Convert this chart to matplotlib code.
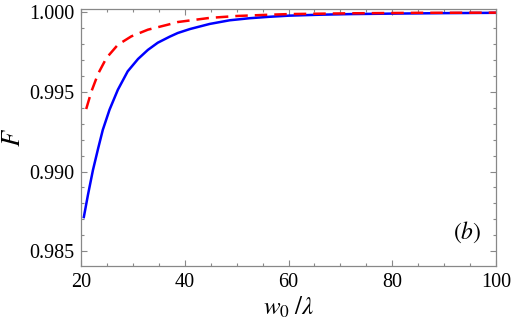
import matplotlib
matplotlib.use("Agg")
import matplotlib.pyplot as plt
from matplotlib.ticker import MultipleLocator

# values
w_blue = [20.5, 21.35, 22.3, 23.3, 24.2, 25.5, 27.1, 29.0, 31.0, 32.9, 34.8,
	37.1, 38.65, 41.0, 44.8, 48.65, 52.5, 56.3, 60.0, 66.0, 72.0, 80.0, 90.0, 100.0]
F_blue = [0.98706, 0.98855, 0.99009, 0.99145, 0.99262, 0.99389, 0.99514, 0.9963,
	0.99708, 0.99765, 0.9981, 0.99848, 0.99871, 0.99896, 0.99928, 0.99951,
	0.99964, 0.99973, 0.9998, 0.99986, 0.9999, 0.99993, 0.99996, 0.99998]

w_red = [21.0, 22.0, 23.3, 24.9, 27.1, 29.7, 32.9, 36.7, 38.65, 44.8, 50.0,
	56.3, 60.0, 72.0, 85.0, 100.0]
F_red = [0.99393, 0.99503, 0.99615, 0.99714, 0.99797, 0.9985, 0.99892, 0.99923,
	0.9994, 0.99966, 0.99978, 0.99986, 0.9999, 0.99995, 0.99998, 0.99999]

x_ticks = [20, 40, 60, 80, 100]
y_ticks = [0.985, 0.990, 0.995, 1.000]

plt.rcParams['font.family'] = ['Liberation Serif', 'DejaVu Serif']
plt.rcParams['mathtext.fontset'] = 'stix'

fig = plt.figure(figsize=(5.14, 3.28), dpi=100)
ax = fig.add_axes([0.1576, 0.189, 0.8074, 0.7826])

ax.plot(w_blue, F_blue, color=(0, 0, 1), lw=1.8, solid_capstyle='butt')
ax.plot(w_red, F_red, color=(1, 0, 0), lw=1.8, dashes=(5, 2.8))

ax.set_xlim(20, 100)
ax.set_ylim(0.98406, 1.0002)
ax.set_xticks(x_ticks)
ax.set_yticks(y_ticks)
ax.set_yticklabels(["%.3f" % v for v in y_ticks])
ax.xaxis.set_minor_locator(MultipleLocator(5))
ax.yaxis.set_minor_locator(MultipleLocator(0.001))

for s in ax.spines.values():
	s.set_color('#888888')
	s.set_linewidth(0.9)
ax.tick_params(which='both', direction='in', top=True, right=True,
	color='#888888', width=0.8, labelsize=14.5, pad=5)
ax.tick_params(which='major', length=4.5)
ax.tick_params(which='minor', length=2.5)

ax.set_xlabel(r'$w_0\;/\lambda$', fontsize=18, labelpad=2)
ax.set_ylabel(r'$F$', fontsize=19)
ax.yaxis.set_label_coords(-0.135, 0.5)
ax.text(0.93, 0.13, r'$(b)$', transform=ax.transAxes, fontsize=17,
	ha='center', va='center')

fig.savefig('out.png', dpi=100)
